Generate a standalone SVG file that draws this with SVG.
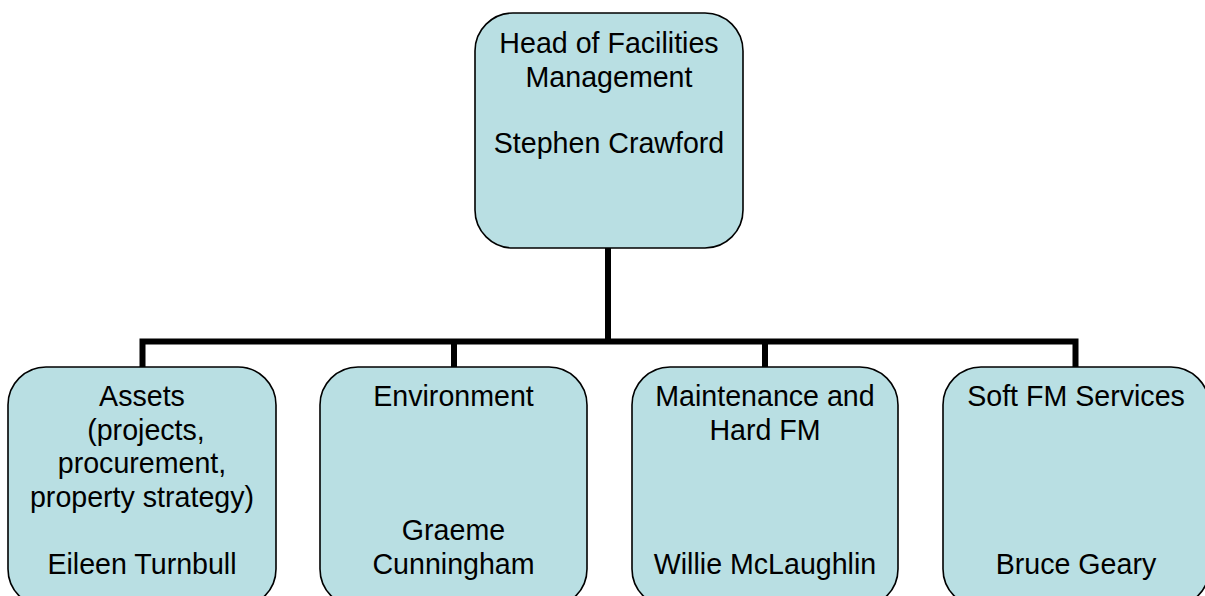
<svg xmlns="http://www.w3.org/2000/svg" width="1205" height="596" viewBox="0 0 1205 596">
<style>
.box{fill:#B9DFE3;stroke:#000;stroke-width:1.6}
.t{font-family:"Liberation Sans",Arial,sans-serif;font-size:28.6px;fill:#000;text-anchor:middle}
.c{fill:none;stroke:#000;stroke-width:6;stroke-linejoin:miter}
</style>
<rect width="1205" height="596" fill="#fff"/>
<g id="connectors">
<path class="c" d="M608,248 V341.5"/>
<path class="c" d="M142.5,367 V341.5 H1075.5 V367"/>
<path class="c" d="M454,341.5 V367"/>
<path class="c" d="M765,341.5 V367"/>
</g>
<g id="head">
<rect class="box" x="475" y="13" width="268" height="235" rx="38" ry="38"/>
<text class="t" x="609" y="53">Head of Facilities</text>
<text class="t" x="609" y="87">Management</text>
<text class="t" x="609" y="153">Stephen Crawford</text>
</g>
<g id="assets">
<rect class="box" x="8" y="367" width="268" height="240" rx="38" ry="38"/>
<text class="t" x="142" y="406">Assets</text>
<text class="t" x="142" y="439.5" xml:space="preserve"> (projects,</text>
<text class="t" x="142" y="473">procurement,</text>
<text class="t" x="142" y="506.5">property strategy)</text>
<text class="t" x="142" y="573.5">Eileen Turnbull</text>
</g>
<g id="environment">
<rect class="box" x="320" y="367" width="267" height="240" rx="38" ry="38"/>
<text class="t" x="453.5" y="406">Environment</text>
<text class="t" x="453.5" y="540">Graeme</text>
<text class="t" x="453.5" y="573.5">Cunningham</text>
</g>
<g id="maintenance">
<rect class="box" x="632" y="367" width="266" height="240" rx="38" ry="38"/>
<text class="t" x="765" y="406">Maintenance and</text>
<text class="t" x="765" y="439.5">Hard FM</text>
<text class="t" x="765" y="573.5">Willie McLaughlin</text>
</g>
<g id="softfm">
<rect class="box" x="943" y="367" width="266" height="240" rx="38" ry="38"/>
<text class="t" x="1076" y="406">Soft FM Services</text>
<text class="t" x="1076" y="573.5">Bruce Geary</text>
</g>
</svg>
